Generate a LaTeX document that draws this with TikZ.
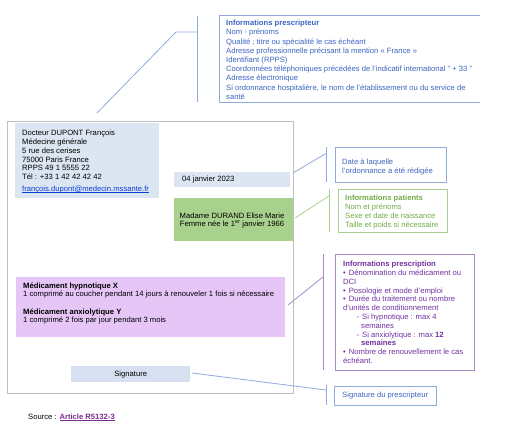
\documentclass[tikz,border=0pt]{standalone}
\usepackage{fontspec}
\setmainfont{Liberation Sans}
\definecolor{cBlueT}{HTML}{3B64C0}
\definecolor{cBlueB}{HTML}{8FAADC}
\definecolor{cGreenT}{HTML}{70AD47}
\definecolor{cGreenB}{HTML}{A9D08E}
\definecolor{cGreenF}{HTML}{A9D18E}
\definecolor{cPurT}{HTML}{7030A0}
\definecolor{cPurB}{HTML}{A98BC9}
\definecolor{cPurF}{HTML}{E6C6F7}
\definecolor{cDocF}{HTML}{DCE6F2}
\definecolor{cSigF}{HTML}{D6E0F0}
\definecolor{cFrame}{HTML}{BFBFBF}
\definecolor{cMail}{HTML}{0B3FD6}
\definecolor{cLink}{HTML}{7B2D8E}
\newcommand{\myuline}[1]{\setbox0\hbox{#1}\rlap{\rule[-1.1pt]{\wd0}{0.45pt}}\box0}
\begin{document}
\begin{tikzpicture}[x=1pt,y=-1pt,
  txt/.style={font=\fontsize{7.65}{8.8}\selectfont, inner sep=0pt, align=left, anchor=north west},
  stxt/.style={font=\fontsize{7.65}{8.8}\selectfont, inner sep=0pt},
  area/.style={inner sep=0pt, anchor=north west},
  blueline/.style={draw=cBlueB, line width=0.8pt},
  greenline/.style={draw=cGreenB, line width=0.8pt},
  purline/.style={draw=cPurB, line width=0.8pt},
]
\useasboundingbox (0,0) rectangle (512,432);

% ---------- letter frame ----------
\node[area, draw=cFrame, line width=0.8pt, minimum width=286pt, minimum height=272pt] (frame) at (7,121) {};

% doctor box
\node[area, fill=cDocF, minimum width=144pt, minimum height=75pt] (doc) at (15,123) {};
\node[txt] (doctxt) at (22,130) {Docteur DUPONT François\\Médecine générale\\5 rue des cerises\\75000 Paris France\\RPPS 49 1 5555 22\\Tél : +33 1 42 42 42 42\\[3.2pt]\textcolor{cMail}{\myuline{françois.dupont@medecin.mssante.fr}}};

% date box
\node[area, fill=cDocF, minimum width=116pt, minimum height=15pt] (date) at (174,172) {};
\node[stxt, anchor=west] (datetxt) at (182,180) {04 janvier 2023};

% patient box
\node[area, fill=cGreenF, minimum width=119pt, minimum height=43pt] (pat) at (174,198) {};
\node[stxt, align=center, font=\fontsize{7.65}{7.8}\selectfont] (pattxt) at (232,220.5) {Madame DURAND Elise Marie\\Femme née le 1\textsuperscript{er} janvier 1966};

% prescription box
\node[area, fill=cPurF, minimum width=269pt, minimum height=60pt] (med) at (16,277) {};
\node[txt, font=\fontsize{7.65}{7.7}\selectfont] (medtxt) at (23,283) {\textbf{Médicament hypnotique X}\\1 comprimé au coucher pendant 14 jours à renouveler 1 fois si nécessaire\\[10.5pt]\textbf{Médicament anxiolytique Y}\\1 comprimé 2 fois par jour pendant 3 mois};

% signature box
\node[area, fill=cSigF, minimum width=119pt, minimum height=16pt] (sig) at (71,366) {};
\node[stxt] (sigtxt) at (sig.center) {Signature};

% source
\node[stxt, anchor=west] (src) at (28,417.5) {Source : \textcolor{cLink}{\myuline{\textbf{Article R5132-3}}}};

% ---------- callout: prescripteur ----------
\node[area, minimum width=261pt, minimum height=87pt] (cpres) at (219,15) {};
\draw[blueline] (cpres.north east) -- (cpres.north west) -- (cpres.south west) -- (cpres.south east);
\node[txt, text=cBlueT, font=\fontsize{7.65}{9.2}\selectfont] (cprestxt) at (226,20) {\textbf{Informations prescripteur}\\Nom - prénoms\\Qualité ; titre ou spécialité le cas échéant\\Adresse professionnelle précisant la mention « France »\\Identifiant (RPPS)\\Coordonnées téléphoniques précédées de l'indicatif international \symbol{34} + 33 \symbol{34}\\Adresse électronique\\Si ordonnance hospitalière, le nom de l'établissement ou du service de\\santé};
\coordinate (pA) at (97,113);
\coordinate (pB) at (176,32);
\coordinate (pC) at (197,32);
\coordinate (pT) at (197,16);
\coordinate (pU) at (197,102);
\draw[blueline] (pA) -- (pB) -- (pC);
\draw[blueline] (pT) -- (pU);

% ---------- callout: date ----------
\node[area, draw=cBlueB, line width=0.8pt, minimum width=111pt, minimum height=35pt] (cdate) at (335,147) {};
\node[txt, text=cBlueT] (cdatetxt) at (342,158.5) {Date à laquelle\\l'ordonnance a été rédigée};
\coordinate (dA) at (293,173);
\coordinate (dB) at (325,154);
\coordinate (dC) at (326,154);
\coordinate (dT) at (326,147);
\coordinate (dU) at (326,182);
\draw[blueline] (dA) -- (dB) -- (dC);
\draw[blueline] (dT) -- (dU);

% ---------- callout: patient ----------
\node[area, draw=cGreenB, line width=0.8pt, minimum width=109pt, minimum height=43pt] (cpat) at (338,189) {};
\node[txt, text=cGreenT] (cpattxt) at (345,195) {\textbf{Informations patients}\\Nom et prénoms\\Sexe et date de naissance\\Taille et poids si nécessaire};
\coordinate (gA) at (295,218);
\coordinate (gB) at (329,196);
\coordinate (gT) at (329,189);
\coordinate (gU) at (329,232);
\draw[greenline] (gA) -- (gB);
\draw[greenline] (gT) -- (gU);

% ---------- callout: prescription ----------
\node[area, draw=cPurB, line width=0.8pt, minimum width=139pt, minimum height=116pt] (cmed) at (335,254) {};
\node[txt, text=cPurT, font=\fontsize{7.65}{8.8}\selectfont] (cmedtxt) at (343,261) {\textbf{Informations prescription}\\•\hspace{3pt}Dénomination du médicament ou\\DCI\\•\hspace{3pt}Posologie et mode d'emploi\\•\hspace{3pt}Durée du traitement ou nombre\\d'unités de conditionnement\\\hspace*{13.5pt}-\hspace{3pt}Si hypnotique : max 4\\\hspace*{18pt}semaines\\\hspace*{13.5pt}-\hspace{3pt}Si anxiolytique : max \textbf{12}\\\hspace*{18pt}\textbf{semaines}\\•\hspace{3pt}Nombre de renouvellement le cas\\échéant.};
\coordinate (mA) at (288,305);
\coordinate (mB) at (323,277);
\coordinate (mT) at (323,254);
\coordinate (mU) at (323,370);
\draw[purline] (mA) -- (mB);
\draw[purline] (mT) -- (mU);

% ---------- callout: signature ----------
\node[area, draw=cBlueB, line width=0.8pt, minimum width=102pt, minimum height=19pt] (csig) at (334,386) {};
\node[stxt, anchor=west, text=cBlueT] (csigtxt) at (342,396) {Signature du prescripteur};
\coordinate (sA) at (192,373);
\coordinate (sB) at (326,390);
\coordinate (sT) at (326,385);
\coordinate (sU) at (326,405);
\draw[blueline] (sA) -- (sB);
\draw[blueline] (sT) -- (sU);
\end{tikzpicture}
\end{document}
